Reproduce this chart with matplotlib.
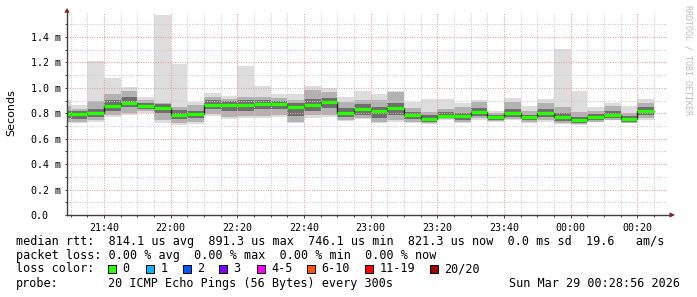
import matplotlib
matplotlib.use('Agg')
import matplotlib.pyplot as plt
import matplotlib.dates as mdates
import matplotlib.ticker as mticker
from matplotlib.patches import Rectangle, Polygon
from matplotlib.lines import Line2D
import numpy as np
import pandas as pd

# ---------------- data (milliseconds) ----------------
bar_start = pd.date_range('2026-03-28 21:25', periods=36, freq='5min')
ping_max = [0.905, 0.865, 1.21, 1.08, 1.005, 0.928, 1.574, 1.188, 0.892, 0.96, 0.936, 1.172,
            1.017, 0.955, 0.952, 1.017, 1.0, 0.926, 0.976, 0.952, 0.976, 0.892, 0.91, 0.91,
            0.884, 0.905, 0.818, 0.92, 0.858, 0.913, 1.306, 0.976, 0.85, 0.88, 0.858, 0.913]
ping_p90 = [0.86, 0.834, 0.897, 0.95, 0.976, 0.905, 0.879, 0.852, 0.865, 0.928, 0.91, 0.93,
            0.93, 0.92, 0.905, 0.983, 0.965, 0.892, 0.905, 0.905, 0.965, 0.844, 0.813, 0.834,
            0.852, 0.89, 0.80, 0.89, 0.82, 0.88, 0.852, 0.813, 0.82, 0.855, 0.80, 0.88]
ping_p75 = [0.82, 0.815, 0.835, 0.905, 0.93, 0.885, 0.87, 0.825, 0.82, 0.905, 0.90, 0.905,
            0.905, 0.90, 0.88, 0.915, 0.92, 0.84, 0.87, 0.85, 0.88, 0.81, 0.785, 0.81,
            0.80, 0.84, 0.79, 0.83, 0.79, 0.83, 0.80, 0.77, 0.795, 0.82, 0.775, 0.85]
median = [0.795, 0.795, 0.805, 0.858, 0.879, 0.858, 0.842, 0.79, 0.792, 0.868, 0.868, 0.868,
          0.875, 0.875, 0.847, 0.868, 0.891, 0.80, 0.834, 0.818, 0.842, 0.784, 0.757, 0.781,
          0.775, 0.808, 0.773, 0.80, 0.769, 0.80, 0.769, 0.746, 0.773, 0.79, 0.753, 0.821]
ping_p25 = [0.76, 0.755, 0.77, 0.82, 0.85, 0.835, 0.80, 0.755, 0.76, 0.83, 0.815, 0.82,
            0.83, 0.835, 0.78, 0.82, 0.84, 0.77, 0.79, 0.765, 0.79, 0.755, 0.735, 0.76,
            0.745, 0.78, 0.75, 0.77, 0.745, 0.77, 0.74, 0.725, 0.75, 0.765, 0.73, 0.79]
ping_p10 = [0.735, 0.735, 0.745, 0.79, 0.80, 0.815, 0.745, 0.72, 0.73, 0.795, 0.77, 0.775,
            0.78, 0.79, 0.735, 0.785, 0.79, 0.75, 0.765, 0.735, 0.75, 0.73, 0.72, 0.752,
            0.73, 0.76, 0.737, 0.755, 0.728, 0.745, 0.722, 0.712, 0.735, 0.75, 0.722, 0.76]
ping_min = [0.72, 0.72, 0.73, 0.773, 0.787, 0.80, 0.725, 0.708, 0.716, 0.78, 0.755, 0.76,
            0.766, 0.773, 0.72, 0.766, 0.773, 0.74, 0.755, 0.72, 0.734, 0.72, 0.714, 0.747,
            0.72, 0.747, 0.73, 0.747, 0.72, 0.734, 0.714, 0.708, 0.73, 0.745, 0.72, 0.75]

t_start = pd.Timestamp('2026-03-28 21:28:56')
t_end = pd.Timestamp('2026-03-29 00:28:56')
y_max = 1.597

legend_rows = [
    "median rtt:  814.1 us avg  891.3 us max  746.1 us min  821.3 us now  0.0 ms sd  19.6   am/s",
    "packet loss: 0.00 % avg  0.00 % max  0.00 % min  0.00 % now",
]
loss_labels = ['0', '1', '2', '3', '4-5', '6-10', '11-19', '20/20']
loss_colors = ['#26ff00', '#00b8ff', '#0059ff', '#7e00ff', '#ff00ff', '#ff5500', '#ff0000', '#a10000']
probe_text = "20 ICMP Echo Pings (56 Bytes) every 300s"
date_text = "Sun Mar 29 00:28:56 2026"

# ---------------- figure ----------------
W, H = 697, 297
fig = plt.figure(figsize=(W / 100, H / 100), dpi=100)
fig.patch.set_facecolor('white')


def fx(x):
    return x / W


def fy(y):
    return 1 - y / H


ax = fig.add_axes([fx(67), fy(215), 600 / W, (215 - 12) / H])
ax.set_facecolor('white')

x = mdates.date2num(bar_start.to_pydatetime())
w = 5 / 1440.0

layers = [(ping_min, ping_max, '#dddddd'),
          (ping_p10, ping_p90, '#b2b2b2'),
          (ping_p25, ping_p75, '#6e6e6e')]
for lo, hi, c in layers:
    lo = np.array(lo)
    hi = np.array(hi)
    ax.bar(x, hi - lo, bottom=lo, width=w, align='edge', color=c, linewidth=0, zorder=1)

edges = np.append(x, x[-1] + w)
ax.stairs(median, edges, baseline=None, color='#202020', lw=1.0, zorder=3)
ax.hlines(median, x, x + w, color=loss_colors[0], lw=2.3, zorder=4)

ax.set_xlim(mdates.date2num(t_start.to_pydatetime()), mdates.date2num(t_end.to_pydatetime()))
ax.set_ylim(0, y_max)

ax.xaxis.set_major_locator(mdates.MinuteLocator(byminute=[0, 20, 40]))
ax.xaxis.set_minor_locator(mdates.MinuteLocator(byminute=range(0, 60, 5)))
ax.xaxis.set_major_formatter(mdates.DateFormatter('%H:%M'))
ax.yaxis.set_major_locator(mticker.MultipleLocator(0.2))
ax.yaxis.set_minor_locator(mticker.MultipleLocator(0.1))
ax.yaxis.set_major_formatter(mticker.FuncFormatter(lambda v, p: '0.0' if abs(v) < 1e-9 else f'{v:.1f} m'))

ax.set_axisbelow(False)
ax.grid(which='major', color='#e8a4a4', linestyle=(0, (1, 1.2)), lw=0.8, zorder=5)
ax.grid(which='minor', color='#cfcfcf', linestyle=(0, (1, 1.2)), lw=0.8, zorder=5)

for s in ax.spines.values():
    s.set_visible(False)

ax.tick_params(axis='x', which='major', length=2.5, width=0.7, color='#404040', pad=3,
               labelsize=7.2, labelfamily='DejaVu Sans Mono') if False else None
ax.tick_params(axis='x', which='major', length=2.5, width=0.7, color='#404040', pad=3, labelsize=7.2)
ax.tick_params(axis='x', which='minor', length=1.5, width=0.7, color='#404040')
ax.tick_params(axis='y', which='major', length=1.5, width=0.7, color='#404040', pad=24.6, labelsize=7.2)
ax.tick_params(axis='y', which='minor', length=1.5, width=0.7, color='#404040')
for lab in ax.get_xticklabels() + ax.get_yticklabels():
    lab.set_family('DejaVu Sans Mono')
for lab in ax.get_yticklabels():
    lab.set_horizontalalignment('left')

# axis lines with arrows (figure pixel coords)
axc = '#404040'
arc = '#8b1a1a'
fig.add_artist(Line2D([fx(67), fx(67)], [fy(215), fy(11)], color=axc, lw=1.0))
fig.add_artist(Line2D([fx(67), fx(670)], [fy(215), fy(215)], color=axc, lw=1.0))
fig.add_artist(Polygon([[fx(64.3), fy(12.7)], [fx(69.7), fy(12.7)], [fx(67), fy(8)]],
                       closed=True, color=arc, lw=0))
fig.add_artist(Polygon([[fx(669.5), fy(212.3)], [fx(669.5), fy(217.7)], [fx(675), fy(215)]],
                       closed=True, color=arc, lw=0))

fig.text(fx(11), fy(113), 'Seconds', rotation=90, ha='center', va='center',
         fontsize=8, family='DejaVu Sans', color='#000000')
fig.text(fx(688), fy(5), 'RRDTOOL / TOBI OETIKER', rotation=270, ha='center', va='top',
         fontsize=6.0, family='DejaVu Sans Mono', color='#bcbcbc')

mono = dict(family='DejaVu Sans Mono', fontsize=8.5, color='#000000', va='center')
row_y = [241, 255, 269, 283.5]
fig.text(fx(16), fy(row_y[0]), legend_rows[0], **mono)
fig.text(fx(16), fy(row_y[1]), legend_rows[1], **mono)
fig.text(fx(16), fy(row_y[2]), 'loss color:', **mono)
sq_x = [108, 146, 183, 219, 257, 307, 365, 430]
for sx, lab, col in zip(sq_x, loss_labels, loss_colors):
    fig.add_artist(Rectangle((fx(sx), fy(row_y[2] + 4)), 8 / W, 8 / H, facecolor=col,
                             edgecolor='#000000', lw=0.7))
    fig.text(fx(sx + 14.5), fy(row_y[2]), lab, **mono)
fig.text(fx(16), fy(row_y[3]), 'probe:', **mono)
fig.text(fx(108), fy(row_y[3]), probe_text, **mono)
fig.text(fx(680), fy(row_y[3]), date_text, ha='right', family='DejaVu Sans Mono',
         fontsize=8.5, color='#000000', va='center')

fig.savefig('out.png', dpi=100, facecolor='white')
